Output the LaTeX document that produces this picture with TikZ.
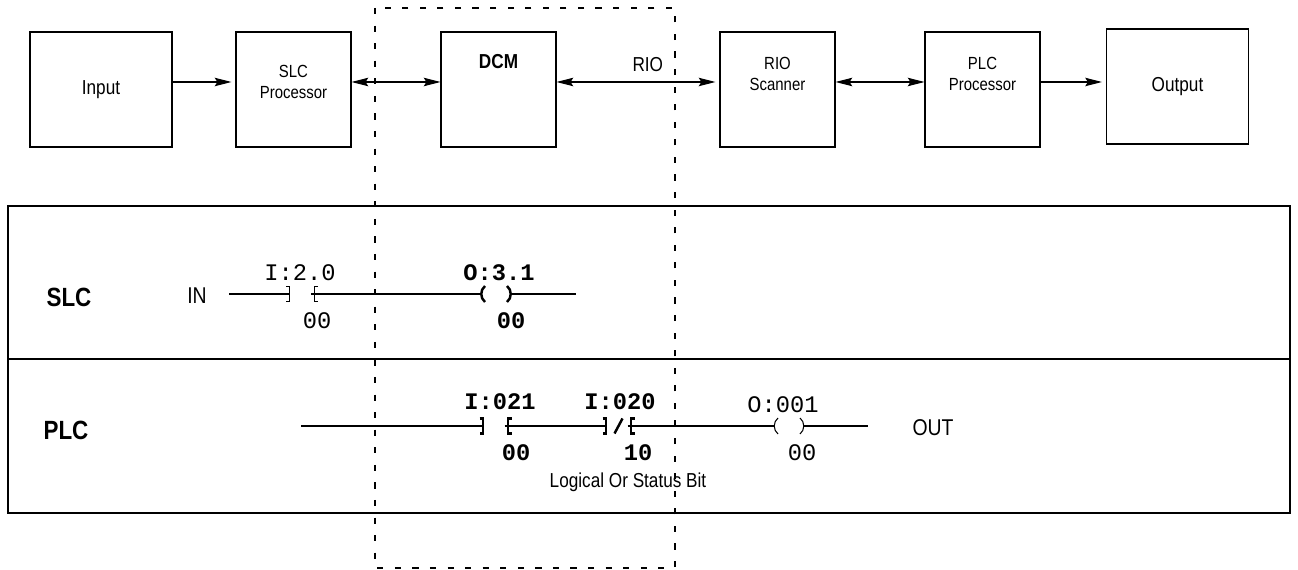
\documentclass[tikz,border=0pt]{standalone}
\usepackage{fontspec}
\setmainfont[FakeStretch=0.85]{Liberation Sans}
\newfontfamily\monofont{Liberation Mono}
\usetikzlibrary{arrows.meta}
\tikzset{
  blk/.style={draw, line width=0.6pt, minimum width=2.3cm, minimum height=2.3cm, inner sep=0pt, font=\fontsize{11.5}{13.5}\selectfont},
  wideblk/.style={blk, minimum width=2.84cm},
  tip/.tip={Stealth[length=9.5pt,width=4.8pt,inset=1.5pt]},
  arr/.style={line width=0.6pt, -tip, shorten >=2.3pt},
  darr/.style={line width=0.6pt, tip-tip},
  rung/.style={line width=0.6pt},
  heavy/.style={line width=1.4pt},
  mono/.style={font=\monofont\fontsize{13.5}{16}\selectfont, inner sep=0pt},
  monob/.style={font=\monofont\bfseries\fontsize{13.5}{16}\selectfont, inner sep=0pt},
  rowname/.style={font=\bfseries\fontsize{15}{18}\selectfont},
  sig/.style={font=\fontsize{13}{15}\selectfont},
  contact/.pic={
    \draw (-16,-7.5) -- (-12.5,-7.5) -- (-12.5,7.5) -- (-16,7.5);
    \draw (16,-7.5) -- (12.5,-7.5) -- (12.5,7.5) -- (16,7.5);
    \coordinate (-l) at (-12.5,0);
    \coordinate (-r) at (9,0);
  },
  ncontact/.pic={
    \draw (-16,-7.5) -- (-12.5,-7.5) -- (-12.5,7.5) -- (-16,7.5);
    \draw (16,-7.5) -- (12.5,-7.5) -- (12.5,7.5) -- (16,7.5);
    \draw (-4,7.5) -- (4,-7.5);
    \coordinate (-l) at (-12.5,0);
    \coordinate (-r) at (9,0);
  },
  coil/.pic={
    \draw (-11,-8) .. controls (-16,-4) and (-16,4) .. (-11,8);
    \draw (11,-8) .. controls (16,-4) and (16,4) .. (11,8);
    \coordinate (-l) at (-14.7,0);
    \coordinate (-r) at (14.7,0);
  }
}
\begin{document}
\begin{tikzpicture}[x=0.02cm,y=-0.02cm]
\useasboundingbox (0,0) rectangle (1298,570);

\node[wideblk] (input) at (101,89.5) {Input};
\node[blk, label={[align=center,yshift=0.16cm]center:SLC\\Processor}] (slcp) at (293.5,89.5) {};
\node[blk, label={[yshift=0.55cm,font=\bfseries\fontsize{11.5}{13.5}\selectfont]center:DCM}] (dcm) at (498.5,89.5) {};
\node[blk, label={[align=center,yshift=0.31cm]center:RIO\\Scanner}] (rios) at (777.5,89.5) {};
\node[blk, label={[align=center,yshift=0.31cm]center:PLC\\Processor}] (plcp) at (982.5,89.5) {};
\node[wideblk] (output) at (1177.5,86.5) {Output};

\draw[arr] ([yshift=0.15cm]input.east) -- ([yshift=0.15cm]slcp.west);
\draw[darr] ([yshift=0.15cm]slcp.east) -- ([yshift=0.15cm]dcm.west);
\draw[darr, shorten >=2.3pt] ([yshift=0.15cm]dcm.east) -- node[pos=0.56, above=2pt, font=\fontsize{11.5}{13.5}\selectfont] {RIO} ([yshift=0.15cm]rios.west);
\draw[darr] ([yshift=0.15cm]rios.east) -- ([yshift=0.15cm]plcp.west);
\coordinate (plcout) at ([yshift=0.15cm]plcp.east);
\draw[arr] (plcout) -- (plcout -| output.west);

\draw[line width=0.6pt] (8,206) rectangle (1290,513);
\draw[line width=0.6pt] (8,359) -- (1290,359);
\draw[line width=0.6pt, dash pattern=on 3.5pt off 6.5pt] (375,8) rectangle (675,568);

\node[rowname] (slc) at (69,297) {SLC};
\node[sig] (in) at (197,296) {IN};
\coordinate (slcin) at (229,294);
\pic[rung] (k1) at (302,294) {contact};
\pic[heavy] (q1) at (496,294) {coil};
\coordinate (slcend) at (576,294);
\draw[rung] (slcin) -- (k1-l) (k1-r) -- (q1-l) (q1-r) -- (slcend);
\node[mono] at (300,273) {I:2.0};
\node[mono] at (317,321) {00};
\node[monob] at (499,273) {O:3.1};
\node[monob] at (511,321) {00};

\node[rowname] (plc) at (66,430) {PLC};
\coordinate (plcin) at (301,426);
\pic[heavy] (k2) at (495.5,426) {contact};
\pic[heavy] (k3) at (618.5,426) {ncontact};
\pic[rung] (q2) at (789,426) {coil};
\coordinate (plcend) at (868,426);
\draw[rung] (plcin) -- (k2-l) (k2-r) -- (k3-l) (k3-r) -- (q2-l) (q2-r) -- (plcend);
\node[monob] at (500,402) {I:021};
\node[monob] at (516,453) {00};
\node[monob] at (620,402) {I:020};
\node[monob] at (638,453) {10};
\node[mono] at (783,405) {O:001};
\node[mono] at (802,453) {00};
\node[font=\fontsize{11.5}{13.5}\selectfont] (lbit) at (628,482) {Logical Or Status Bit};
\node[sig] (out) at (933,428) {OUT};
\end{tikzpicture}
\end{document}
